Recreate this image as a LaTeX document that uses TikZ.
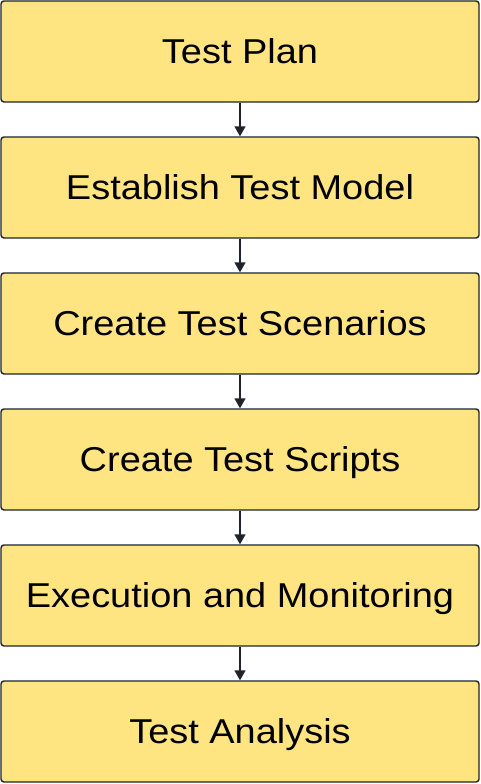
\documentclass[tikz,border=0pt]{standalone}
\usepackage{fontspec}
\setmainfont{Liberation Sans}[FakeStretch=1.1]
\usetikzlibrary{arrows.meta}
\definecolor{boxfill}{HTML}{FFE482}
\definecolor{linecol}{HTML}{1F2329}
\begin{document}
\begin{tikzpicture}[x=1pt,y=-1pt,
  stepbox/.style={draw=linecol,fill=boxfill,line width=1.4pt,rounded corners=3pt,
    minimum width=478pt,minimum height=101pt,inner sep=0pt,text height=24.4pt,text depth=0pt,
    font=\fontsize{34.5}{40}\selectfont,text=black},
  flow/.style={draw=linecol,line width=1.4pt,-{Triangle[length=10pt,width=11pt]}}]
\useasboundingbox (0,0) rectangle (480,784);
\node[stepbox] (b1) at (240,51.5) {Test Plan};
\node[stepbox] (b2) at (240,187.5) {Establish Test Model};
\node[stepbox] (b3) at (240,323.5) {Create Test Scenarios};
\node[stepbox] (b4) at (240,459.5) {Create Test Scripts};
\node[stepbox] (b5) at (240,595.5) {Execution and Monitoring};
\node[stepbox] (b6) at (240,731.5) {Test Analysis};
\draw[flow] (b1) -- (b2);
\draw[flow] (b2) -- (b3);
\draw[flow] (b3) -- (b4);
\draw[flow] (b4) -- (b5);
\draw[flow] (b5) -- (b6);
\end{tikzpicture}
\end{document}
